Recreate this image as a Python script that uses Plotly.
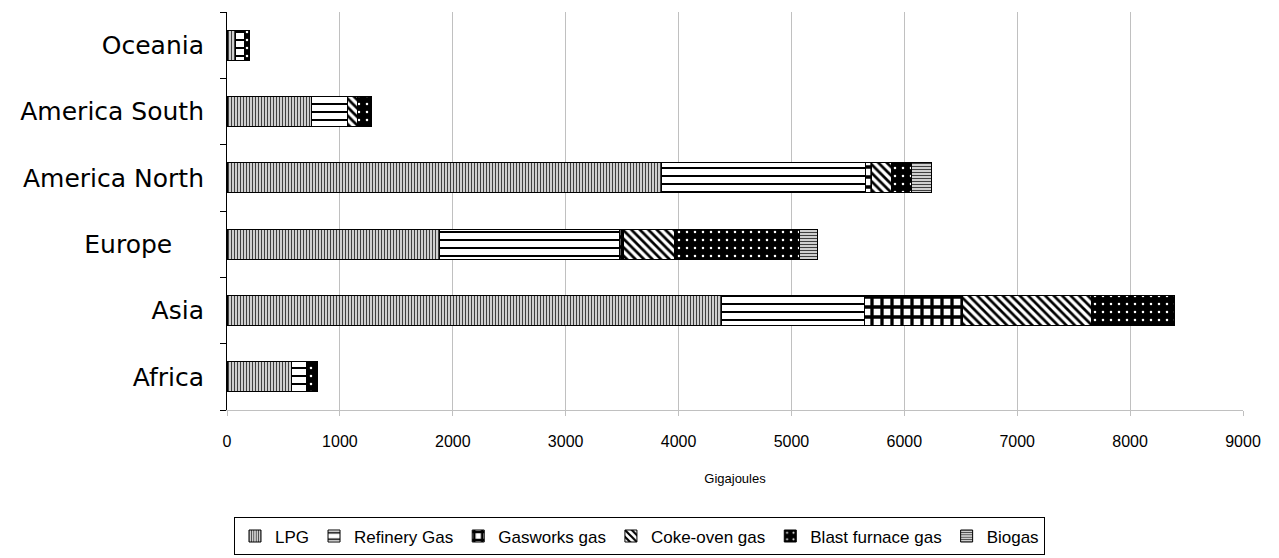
import plotly.graph_objects as go

# regions, bottom to top
regions = ["Africa", "Asia", "Europe\u00a0\u00a0\u00a0\u00a0", "America North", "America South", "Oceania"]

# values (gigajoules)
lpg = [575, 4380, 1880, 3850, 745, 75]
refinery_gas = [125, 1265, 1595, 1805, 320, 80]
gasworks_gas = [15, 870, 35, 50, 5, 0]
coke_oven_gas = [5, 1140, 455, 180, 90, 0]
blast_furnace_gas = [85, 740, 1110, 180, 120, 40]
biogas = [0, 0, 160, 175, 0, 0]

series = [
    ("LPG", lpg, dict(shape="|", fgcolor="#404040", bgcolor="white", size=3, solidity=0.5)),
    ("Refinery Gas", refinery_gas, dict(shape="-", fgcolor="black", bgcolor="white", size=8, solidity=0.25)),
    ("Gasworks gas", gasworks_gas, dict(shape="+", fgcolor="black", bgcolor="white", size=10, solidity=0.55)),
    ("Coke-oven gas", coke_oven_gas, dict(shape="\\", fgcolor="black", bgcolor="white", size=6, solidity=0.45)),
    ("Blast furnace gas", blast_furnace_gas, dict(shape=".", fgcolor="white", bgcolor="black", size=8, solidity=0.08)),
    ("Biogas", biogas, dict(shape="-", fgcolor="#404040", bgcolor="white", size=3, solidity=0.5)),
]

fig = go.Figure()
for name, vals, pat in series:
    fig.add_trace(go.Bar(
        y=regions, x=vals, name=name, orientation="h",
        marker=dict(color="white", pattern=dict(fillmode="replace", **pat),
                    line=dict(color="black", width=1)),
        width=0.45,
    ))

# page body adds an 8px offset, so the figure is sized a bit smaller
fig.update_layout(
    barmode="stack",
    width=1263, height=550,
    margin=dict(l=219, r=28, t=4, b=148, autoexpand=False),
    paper_bgcolor="white", plot_bgcolor="white",
    font=dict(family="Liberation Sans, Arial, sans-serif", color="black"),
    showlegend=True,
    legend=dict(orientation="h", x=0.406, xanchor="center", y=-0.27, yanchor="top",
                bordercolor="black", borderwidth=1, font=dict(size=17),
                traceorder="normal", itemwidth=30),
)
fig.update_xaxes(
    range=[0, 9000], dtick=1000, showgrid=True, gridcolor="#c0c0c0", gridwidth=1,
    zeroline=False, showline=True, linecolor="#c0c0c0", automargin=False,
    ticks="outside", ticklen=5, tickcolor="#c0c0c0", ticklabelstandoff=12,
    tickfont=dict(size=16),
    title=dict(text="Gigajoules", font=dict(size=13), standoff=24),
)
fig.update_yaxes(
    showline=True, linecolor="black", linewidth=1, showgrid=False, automargin=False,
    ticks="outside", tickson="boundaries", ticklen=6, tickcolor="black",
    tickfont=dict(size=25, family="DejaVu Sans, sans-serif"), ticklabelstandoff=17,
)

fig.write_html("out.html")
